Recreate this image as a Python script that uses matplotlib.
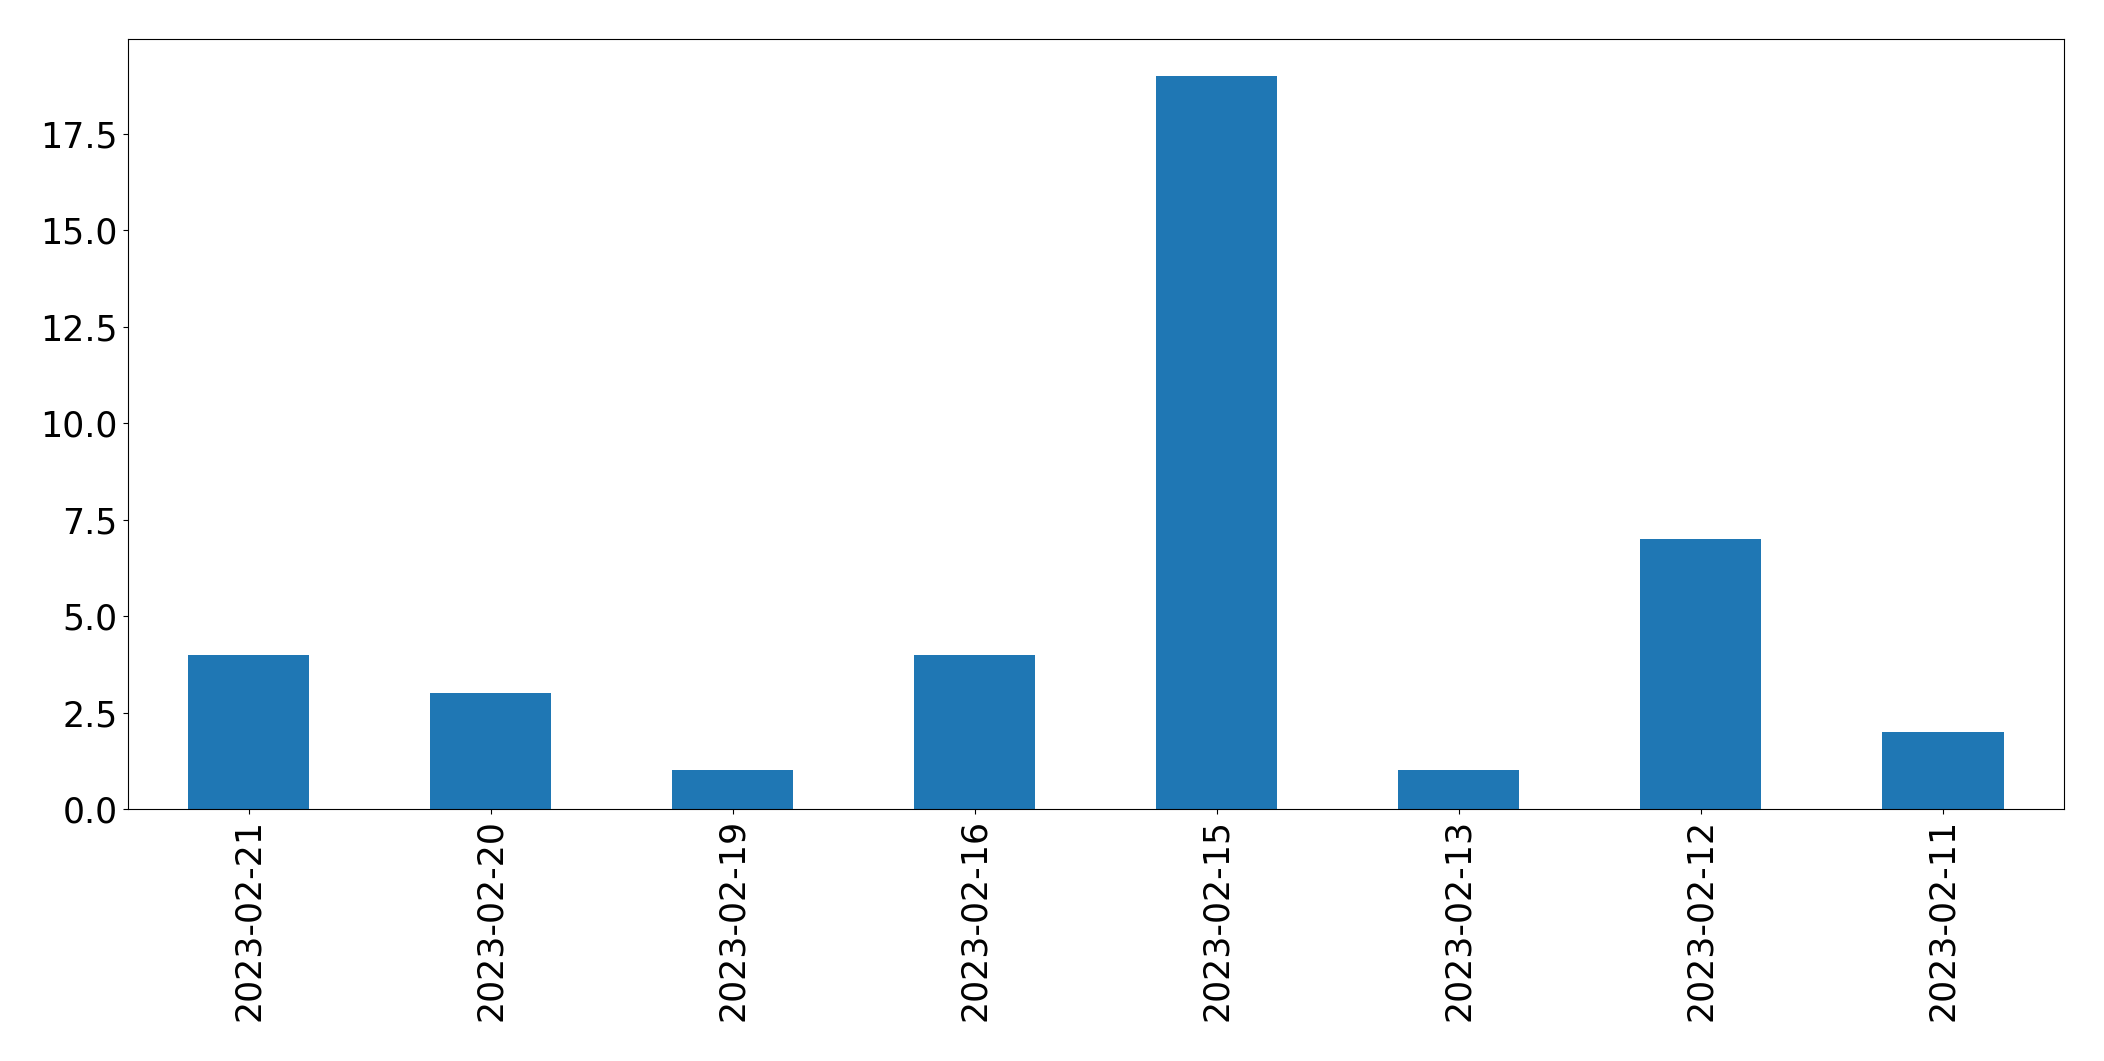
import matplotlib
matplotlib.use("Agg")
import matplotlib.pyplot as plt
import pandas as pd

dates = ["2023-02-21", "2023-02-20", "2023-02-19", "2023-02-16",
         "2023-02-15", "2023-02-13", "2023-02-12", "2023-02-11"]
counts = [4, 3, 1, 4, 19, 1, 7, 2]

s = pd.Series(counts, index=dates)

fig = plt.figure(figsize=(21.04, 10.61), dpi=100)
ax = fig.add_subplot(111)
s.plot(kind="bar", ax=ax)
ax.tick_params(axis="both", labelsize=25)

fig.subplots_adjust(left=0.0606, right=0.981, top=0.963, bottom=0.2375)
fig.savefig("out.png", dpi=100)
